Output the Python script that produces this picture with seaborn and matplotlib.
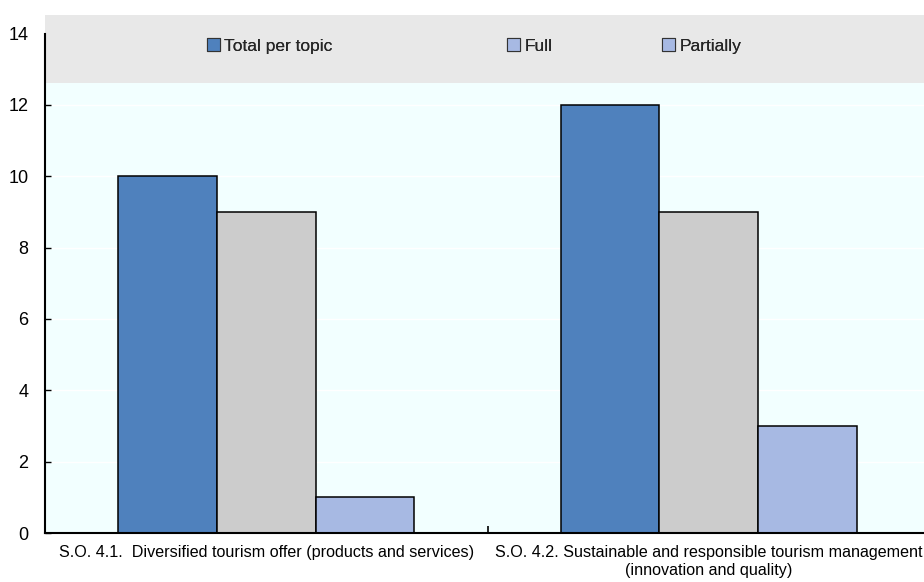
import matplotlib
matplotlib.use("Agg")
import matplotlib.pyplot as plt
from matplotlib.patches import Patch
import seaborn as sns
import pandas as pd

# Data
categories = [
    "S.O. 4.1.  Diversified tourism offer (products and services)",
    "S.O. 4.2. Sustainable and responsible tourism management\n(innovation and quality)",
]
series_names = ["Total per topic", "Full", "Partially"]
total_per_topic = [10, 12]
full = [9, 9]
partially = [1, 3]
y_ticks = [0, 2, 4, 6, 8, 10, 12, 14]

bar_colors = ["#4F81BD", "#CCCCCC", "#A7B9E3"]
legend_colors = ["#4F81BD", "#A7B9E3", "#A7B9E3"]

df = pd.DataFrame({
    "category": categories * 3,
    "series": [s for s in series_names for _ in categories],
    "value": total_per_topic + full + partially,
})

sns.set_theme(style="white")
plt.rcParams["font.family"] = ["Liberation Sans", "DejaVu Sans"]
plt.rcParams["font.size"] = 12.5

fig = plt.figure(figsize=(9.24, 5.82), dpi=100)
ax = fig.add_axes([45 / 924, 49 / 582, 879 / 924, 518 / 582])
ax.set_facecolor("#F2FFFF")

sns.barplot(
    data=df, x="category", y="value", hue="series",
    hue_order=series_names, palette=bar_colors,
    width=0.668, gap=0, edgecolor="black", linewidth=1.1,
    saturation=1, legend=False, ax=ax,
)

ax.set_xlim(-0.5, 1.4864)
ax.set_ylim(0, 14.52)
ax.set_yticks(y_ticks)
ax.set_xlabel("")
ax.set_ylabel("")

# white horizontal grid, legend band on top of the plot area
ax.set_axisbelow(True)
ax.yaxis.grid(True, color="white", linewidth=1.0)
ax.xaxis.grid(False)
ax.axhspan(12.62, 14.52, color="#E8E8E8", zorder=0.6, linewidth=0)

for side in ["top", "right"]:
    ax.spines[side].set_visible(False)
ax.spines["left"].set_bounds(0, 14)
ax.spines["left"].set_color("black")
ax.spines["left"].set_linewidth(1.5)
ax.spines["bottom"].set_color("black")
ax.spines["bottom"].set_linewidth(1.5)

ax.tick_params(axis="y", direction="in", length=4, width=1, color="black",
               left=True, pad=12, labelsize=13, labelcolor="black")
ax.tick_params(axis="x", which="major", length=0, pad=9, labelsize=11.6,
               labelcolor="black")
ax.set_xticks([0.5], minor=True)
ax.tick_params(axis="x", which="minor", direction="in", length=5, width=1.2,
               color="black", bottom=True)

# legend entries laid out across the grey band
legend_x = [207, 507, 662]
for name, color, xpix in zip(series_names, legend_colors, legend_x):
    leg = fig.legend(
        handles=[Patch(facecolor=color, edgecolor="#333333", linewidth=0.8)],
        labels=[name], loc="center left",
        bbox_to_anchor=(xpix / 924, 1 - 46 / 582),
        frameon=False, handlelength=0.75, handleheight=0.75,
        handletextpad=0.25, borderpad=0, borderaxespad=0,
        fontsize=12.5,
    )
    fig.add_artist(leg)

fig.savefig("out.png", dpi=100)
